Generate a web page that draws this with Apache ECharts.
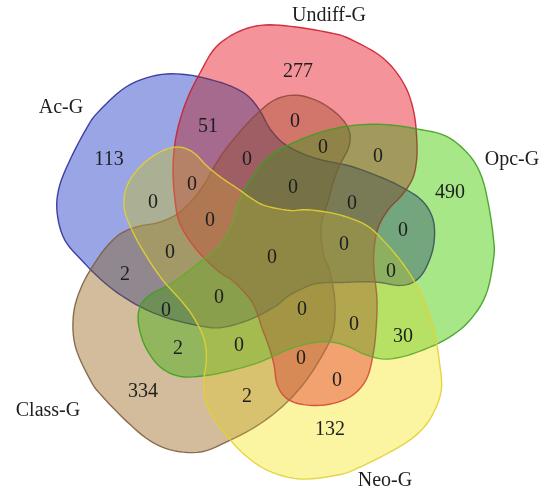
<!DOCTYPE html>
<html>
<head>
<meta charset="utf-8">
<script src="https://cdn.jsdelivr.net/npm/echarts@6/dist/echarts.min.js"></script>
<style>
  html, body { margin: 0; padding: 0; background: #ffffff; }
  #chart { width: 545px; height: 496px; }
</style>
</head>
<body>
<div id="chart"></div>
<script>
// Five gene sets
const setNames = ['Ac-G', 'Undiff-G', 'Opc-G', 'Neo-G', 'Class-G'];

// Counts for the 31 regions of the five-set diagram
const regionCounts = [113, 277, 490, 132, 334, 51, 30, 2, 2, 2,
                      0, 0, 0, 0, 0, 0, 0, 0, 0, 0,
                      0, 0, 0, 0, 0, 0, 0, 0, 0, 0, 0];

// Where each region's count sits (plot units)
const regionAnchors = [
  [109, 160], [298, 72], [450, 193], [330, 430], [143, 392], [208, 127], [403, 337],
  [125, 275], [178, 349], [247, 397],
  [295, 122], [323, 148], [378, 157], [247, 160], [192, 185], [153, 203], [293, 188],
  [210, 221], [352, 204], [403, 231], [344, 245], [272, 258], [170, 253], [391, 272],
  [219, 298], [166, 311], [302, 310], [354, 325], [239, 346], [301, 359], [337, 381]
];

// Set name positions
const nameAnchors = [[61, 108], [329, 16], [512, 160], [385, 481], [48, 411]];

// Styling per set
const setFill = ['#9aa6e6', '#f4949a', '#a8e888', '#fcf4a2', '#d4bc9c'];
const setStroke = ['#30309a', '#cc2030', '#3fa020', '#e2d232', '#7e6040'];
// placement of each petal copy: turn (deg), scale, shift
const setTurn = [-72, 0, 72, 144, 216];
const setScale = [0.985, 1, 0.98, 1, 0.985];
const setShift = [[4, -5], [0, 0], [-4, -3], [0, 0], [4, -2]];
// stacking rank of each set (lower is painted first)
const paintRank = [0, 2, 3, 4, 1];
const TINT = 0.2;   // share of plain tint mixed over the multiplied layer

// One petal (blob plus tail); the others are copies turned about the centre
const CENTER = [273, 255];
const PETAL = [
  [175, 200], [173, 170], [175, 143], [180, 120], [188, 97], [200, 73], [216, 47],
  [240, 31], [265, 25], [296, 27], [331, 33], [350, 39], [383, 58], [404, 84],
  [414, 113], [417, 145], [416, 165], [412, 180], [402, 195], [388, 210], [378, 228],
  [374, 250], [374, 270], [377, 300], [376, 330], [373, 355], [366, 380], [350, 397],
  [325, 405], [300, 404], [285, 397], [277, 384], [274, 365], [269, 347], [262, 328],
  [257, 313], [250, 299], [233, 281], [218, 271], [196, 249], [180, 224]
];

function place(p, i) {
  const r = setTurn[i] * Math.PI / 180, k = setScale[i], s = setShift[i];
  const dx = (p[0] - CENTER[0]) * k, dy = (p[1] - CENTER[1]) * k;
  return [CENTER[0] + s[0] + dx * Math.cos(r) - dy * Math.sin(r),
          CENTER[1] + s[1] + dx * Math.sin(r) + dy * Math.cos(r)];
}

// Closed Catmull-Rom curve through the outline points
function smoothRing(pts, steps) {
  const out = [];
  const n = pts.length;
  for (let i = 0; i < n; i++) {
    const p0 = pts[(i - 1 + n) % n], p1 = pts[i], p2 = pts[(i + 1) % n], p3 = pts[(i + 2) % n];
    for (let s = 0; s < steps; s++) {
      const t = s / steps, t2 = t * t, t3 = t2 * t;
      const f = k => 0.5 * ((2 * p1[k]) + (-p0[k] + p2[k]) * t +
        (2 * p0[k] - 5 * p1[k] + 4 * p2[k] - p3[k]) * t2 +
        (-p0[k] + 3 * p1[k] - 3 * p2[k] + p3[k]) * t3);
      out.push([f(0), f(1)]);
    }
  }
  return out;
}

const chart = echarts.init(document.getElementById('chart'), null, { renderer: 'canvas' });

chart.setOption({
  animation: false,
  backgroundColor: '#ffffff',
  grid: { left: 0, right: 0, top: 0, bottom: 0 },
  xAxis: { type: 'value', min: 0, max: 545, show: false },
  yAxis: { type: 'value', min: 0, max: 496, inverse: true, show: false },
  series: [
    {
      type: 'custom',
      coordinateSystem: 'cartesian2d',
      silent: true,
      data: setNames.map((name, i) => ({ name: name, value: [i, i] })),
      renderItem: function (params, api) {
        const i = params.dataIndex;
        const base = paintRank[i] * 3;
        const pts = smoothRing(PETAL.map(p => place(p, i)), 6).map(p => api.coord(p));
        return {
          type: 'group',
          children: [
            // darkening layer: multiplies whatever lies beneath
            { type: 'polygon', name: 'petal-multiply', z2: base, shape: { points: pts }, style: { fill: setFill[i] } },
            // tint layer
            { type: 'polygon', z2: base + 1, shape: { points: pts }, style: { fill: setFill[i], opacity: TINT } },
            // outline
            { type: 'polygon', z2: base + 2, shape: { points: pts }, style: { fill: 'none', stroke: setStroke[i], lineWidth: 1.4, opacity: 0.9 } }
          ]
        };
      }
    },
    {
      type: 'custom',
      coordinateSystem: 'cartesian2d',
      silent: true,
      z: 3,
      data: regionCounts.map((v, i) => ({ value: [regionAnchors[i][0], regionAnchors[i][1], v] })),
      renderItem: function (params, api) {
        const p = api.coord([api.value(0), api.value(1)]);
        return {
          type: 'text',
          style: {
            text: String(api.value(2)), x: p[0], y: p[1],
            fill: '#1e1e1e', font: '20px "Liberation Serif"',
            align: 'center', verticalAlign: 'middle'
          }
        };
      }
    },
    {
      type: 'custom',
      coordinateSystem: 'cartesian2d',
      silent: true,
      z: 3,
      data: setNames.map((name, i) => ({ name: name, value: [nameAnchors[i][0], nameAnchors[i][1]] })),
      renderItem: function (params, api) {
        const p = api.coord([api.value(0), api.value(1)]);
        return {
          type: 'text',
          style: {
            text: setNames[params.dataIndex], x: p[0], y: p[1],
            fill: '#1e1e1e', font: '20px "Liberation Serif"',
            align: 'center', verticalAlign: 'middle'
          }
        };
      }
    }
  ]
});

// Switch the darkening layers to multiply compositing
const zr = chart.getZr();
zr.storage.getDisplayList(true).forEach(function (el) {
  if (el.name === 'petal-multiply') {
    el.style.blend = 'multiply';
    el.markRedraw();
  }
});
zr.refreshImmediately();
</script>
</body>
</html>
